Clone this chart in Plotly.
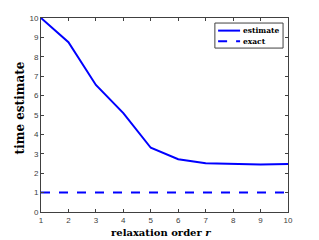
import plotly.graph_objects as go

orders = [1, 2, 3, 4, 5, 6, 7, 8, 9, 10]
estimate = [10.0, 8.75, 6.55, 5.1, 3.31, 2.72, 2.51, 2.48, 2.45, 2.48]
exact = [1, 1, 1, 1, 1, 1, 1, 1, 1, 1]
series_names = ["estimate", "exact"]
x_title = "relaxation order <i>r</i>"
y_title = "time estimate"

BLUE = "#0000ff"
SERIF = "DejaVu Serif, serif"

fig = go.Figure()
fig.add_trace(go.Scatter(x=orders, y=estimate, mode="lines", name=series_names[0],
                         line=dict(color=BLUE, width=2), showlegend=False))
fig.add_trace(go.Scatter(x=orders, y=exact, mode="lines", name=series_names[1],
                         line=dict(color=BLUE, width=2, dash="dash"), showlegend=False))

axis_common = dict(showgrid=False, zeroline=False, showline=True, linecolor="#404040",
                   linewidth=1, mirror="ticks", ticks="inside", ticklen=3, tickcolor="#404040",
                   tickfont=dict(family="Liberation Sans, Arial", size=8, color="#404040"))
fig.update_xaxes(range=[1, 10], tickvals=orders, **axis_common)
fig.update_yaxes(range=[0, 10], tickvals=list(range(0, 11)), **axis_common)

# axis titles as annotations for exact placement
fig.add_annotation(xref="paper", yref="paper", x=0.484, y=0, yshift=-20, text=x_title,
                   showarrow=False, xanchor="center", yanchor="middle",
                   font=dict(family=SERIF, size=10, color="black", weight="bold"))
fig.add_annotation(xref="paper", yref="paper", x=0, xshift=-21, y=0.534, text=y_title,
                   showarrow=False, xanchor="center", yanchor="middle", textangle=-90,
                   font=dict(family=SERIF, size=12, color="black", weight="bold"))

# manual compact legend (paper coordinates)
fig.add_shape(type="rect", xref="paper", yref="paper", x0=0.704, x1=0.980, y0=0.845, y1=0.974,
              line=dict(color="#404040", width=1), fillcolor="white", layer="above")
for i, (nm, dash) in enumerate(zip(series_names, ["solid", "dash"])):
    yy = [0.935, 0.880][i]
    fig.add_shape(type="line", xref="paper", yref="paper", x0=0.717, x1=0.806, y0=yy, y1=yy,
                  line=dict(color=BLUE, width=2, dash=dash), layer="above")
    fig.add_annotation(xref="paper", yref="paper", x=0.810, y=yy, text=nm, showarrow=False,
                       xanchor="left", yanchor="middle",
                       font=dict(family=SERIF, size=7.5, color="black", weight="bold"))

# page body has an 8px default margin, so the figure is sized to fit the 319x240 window
fig.update_layout(width=311, height=232, margin=dict(l=33, r=31, t=10, b=28, autoexpand=False),
                  plot_bgcolor="white", paper_bgcolor="white", showlegend=False)
fig.write_html("out.html")
